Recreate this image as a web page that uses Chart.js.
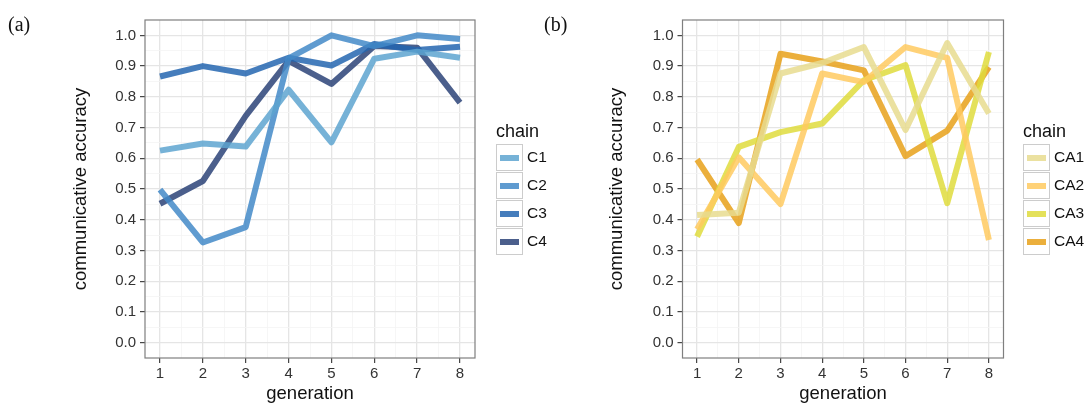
<!DOCTYPE html>
<html lang="en">
    <head>
        <script src="https://cdn.jsdelivr.net/npm/chart.js"></script>
        <style>
            body { margin: 0; background: #fff; font-family: "Liberation Sans", Arial, sans-serif; }
            #wrap { position: relative; width: 1087px; height: 403px; overflow: hidden; }
            canvas { position: absolute; top: 0; }
            .tag { position: absolute; top: 13px; font-family: "Liberation Serif", serif; font-size: 20px; color: #111; }
            .legend { position: absolute; top: 120px; color: #111; }
            .legend .title { font-size: 18px; height: 23px; line-height: 23px; }
            .legend .row { height: 28px; display: flex; align-items: center; }
            .legend .key { width: 25px; height: 25px; border: 1.5px solid #ccc; position: relative; background: #fff; }
            .legend .key span { position: absolute; left: 3px; right: 3px; top: 10px; height: 6px; }
            .legend .lab { font-size: 15.5px; margin-left: 4px; }
        </style>
    </head>
    <body>
        <div id="wrap">
            <canvas id="chartA" width="540" height="403" style="left:0"></canvas>
            <canvas id="chartB" width="547" height="403" style="left:540px"></canvas>
            <div class="tag" style="left:8px">(a)</div>
            <div class="tag" style="left:544px">(b)</div>
            <div class="legend" id="legA" style="left:496px"></div>
            <div class="legend" id="legB" style="left:1023px"></div>
        </div>
        <script>
            const generations = [1, 2, 3, 4, 5, 6, 7, 8]

            // panel (a)
            const chainsA = ["C1", "C2", "C3", "C4"]
            const c1 = [0.625, 0.648, 0.638, 0.823, 0.652, 0.924, 0.947, 0.927]
            const c2 = [0.498, 0.326, 0.376, 0.925, 1.0, 0.965, 1.0, 0.988]
            const c3 = [0.866, 0.9, 0.876, 0.927, 0.902, 0.972, 0.952, 0.963]
            const c4 = [0.452, 0.526, 0.738, 0.917, 0.842, 0.965, 0.96, 0.781]
            const coloursA = ["rgba(94,164,208,0.85)", "rgba(67,137,200,0.85)", "rgba(37,102,176,0.85)", "rgba(43,67,120,0.85)"]

            // panel (b)
            const chainsB = ["CA1", "CA2", "CA3", "CA4"]
            const ca1 = [0.415, 0.423, 0.876, 0.91, 0.962, 0.692, 0.975, 0.746]
            const ca2 = [0.369, 0.603, 0.451, 0.876, 0.848, 0.962, 0.927, 0.334]
            const ca3 = [0.345, 0.637, 0.685, 0.713, 0.854, 0.903, 0.454, 0.946]
            const ca4 = [0.596, 0.389, 0.94, 0.915, 0.886, 0.607, 0.69, 0.897]
            const coloursB = ["rgba(231,220,143,0.85)", "rgba(255,202,96,0.85)", "rgba(223,220,61,0.85)", "rgba(231,161,26,0.85)"]

            const yTicks = Array.from({ length: 21 }, (_, i) => i / 20)
            const xTicks = Array.from({ length: 15 }, (_, i) => 1 + i / 2)

            const borderPlugin = {
                id: "panelBorder",
                afterDraw(chart) {
                    const a = chart.chartArea
                    const ctx = chart.ctx
                    ctx.save()
                    ctx.strokeStyle = "#7f7f7f"
                    ctx.lineWidth = 1.2
                    ctx.strokeRect(a.left, a.top, a.right - a.left, a.bottom - a.top)
                    ctx.restore()
                },
            }

            function makeChart(id, names, series, colours, pad) {
                const grid = {
                    color: (c) => (c.index % 2 === 0 ? "#e5e5e5" : "#f4f4f4"),
                    lineWidth: (c) => (c.index % 2 === 0 ? 1.3 : 0.8),
                    tickColor: (c) => (c.index % 2 === 0 ? "#333" : "rgba(0,0,0,0)"),
                    tickLength: 5,
                    tickWidth: 1.1,
                }
                new Chart(document.getElementById(id), {
                    type: "line",
                    data: {
                        datasets: series.map((vals, k) => ({
                            label: names[k],
                            data: generations.map((g, i) => ({ x: g, y: vals[i] })),
                            borderColor: colours[k],
                            borderWidth: 6,
                            borderCapStyle: "butt",
                            borderJoinStyle: "round",
                            pointRadius: 0,
                            tension: 0,
                            fill: false,
                        })),
                    },
                    options: {
                        responsive: false,
                        animation: false,
                        events: [],
                        layout: { padding: { left: pad.left, right: pad.right, top: 20, bottom: 0 } },
                        plugins: { legend: { display: false }, tooltip: { enabled: false } },
                        scales: {
                            x: {
                                type: "linear",
                                min: 0.65,
                                max: 8.35,
                                afterBuildTicks: (s) => { s.ticks = xTicks.map((v) => ({ value: v })) },
                                afterFit: (s) => { s.height = 45 },
                                border: { display: false },
                                grid: grid,
                                ticks: {
                                    autoSkip: false,
                                    maxRotation: 0,
                                    padding: 2,
                                    color: "#333",
                                    font: { family: "Liberation Sans", size: 15 },
                                    callback: (v, i) => (i % 2 === 0 ? String(v) : ""),
                                },
                                title: {
                                    display: true,
                                    text: "generation",
                                    color: "#111",
                                    padding: { top: 0, bottom: -2 },
                                    font: { family: "Liberation Sans", size: 18.5 },
                                },
                            },
                            y: {
                                min: -0.05,
                                max: 1.05,
                                afterBuildTicks: (s) => { s.ticks = yTicks.map((v) => ({ value: v })) },
                                afterFit: (s) => { s.width = pad.yWidth },
                                border: { display: false },
                                grid: grid,
                                ticks: {
                                    autoSkip: false,
                                    padding: 4,
                                    color: "#333",
                                    font: { family: "Liberation Sans", size: 15 },
                                    callback: (v, i) => (i % 2 === 0 ? v.toFixed(1) : ""),
                                },
                                title: {
                                    display: true,
                                    text: "communicative accuracy",
                                    color: "#111",
                                    padding: { top: pad.titleTop, bottom: 0 },
                                    font: { family: "Liberation Sans", size: 18.5 },
                                },
                            },
                        },
                    },
                    plugins: [borderPlugin],
                })
            }

            function makeLegend(id, names, colours) {
                const box = document.getElementById(id)
                let html = '<div class="title">chain</div>'
                names.forEach((n, k) => {
                    html += '<div class="row"><div class="key"><span style="background:' + colours[k] + '"></span></div><div class="lab">' + n + "</div></div>"
                })
                box.innerHTML = html
            }

            makeChart("chartA", chainsA, [c1, c2, c3, c4], coloursA, { left: 62, right: 65, yWidth: 83, titleTop: 7.5 })
            makeChart("chartB", chainsB, [ca1, ca2, ca3, ca4], coloursB, { left: 60, right: 83.5, yWidth: 82.5, titleTop: 5.6 })
            makeLegend("legA", chainsA, coloursA)
            makeLegend("legB", chainsB, coloursB)
        </script>
    </body>
</html>
